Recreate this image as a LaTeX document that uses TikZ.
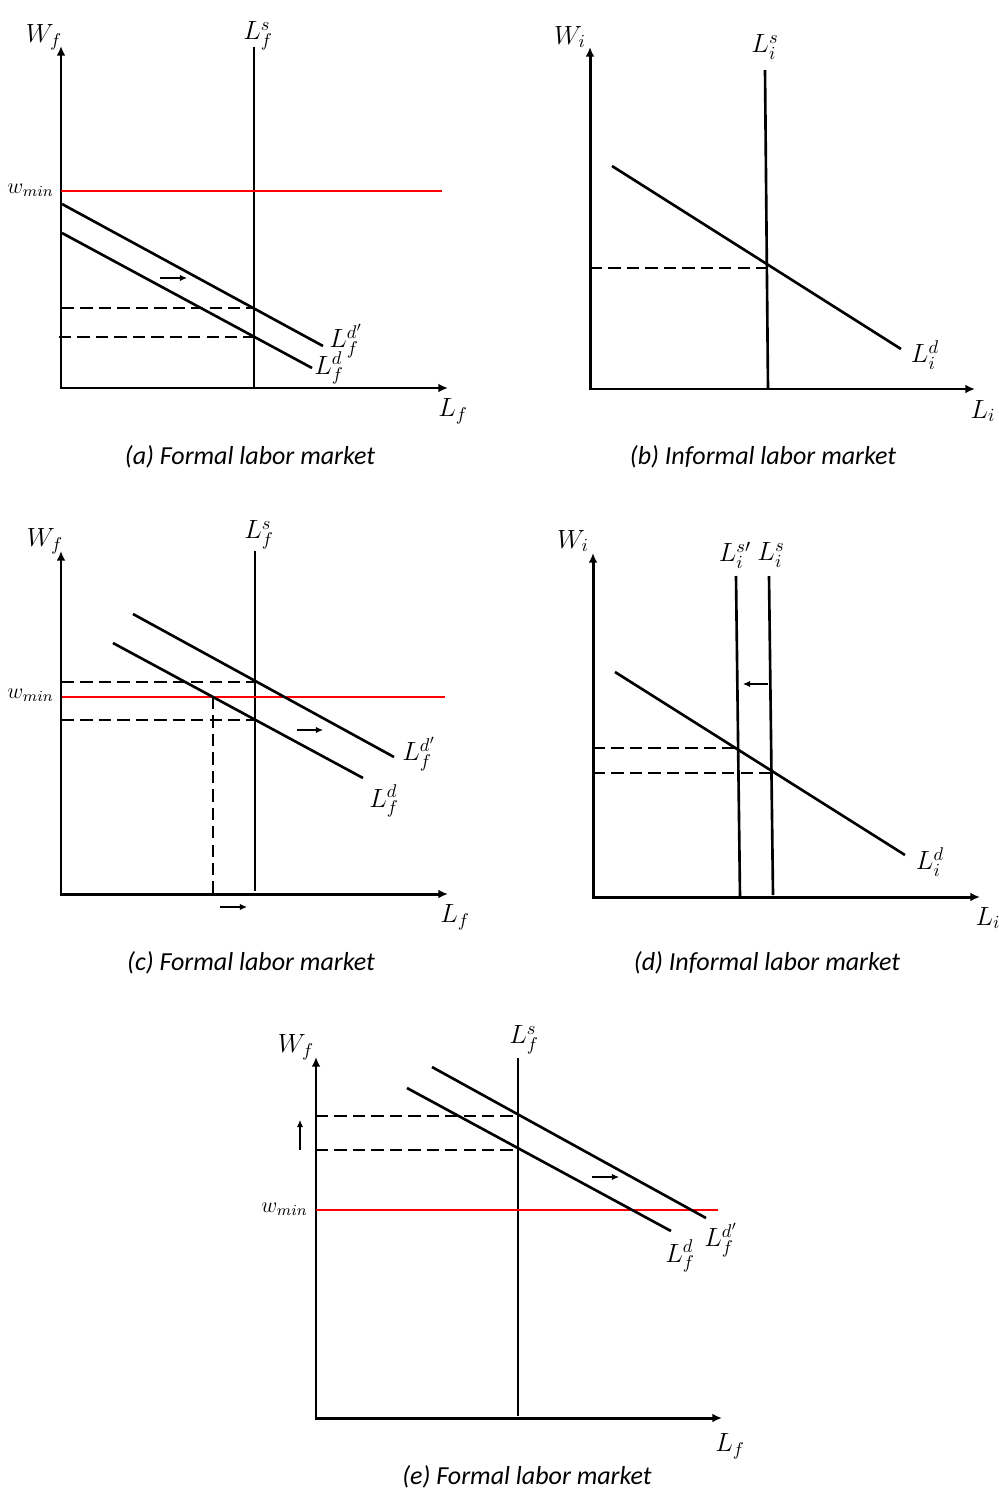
\RequirePackage{fix-cm}
\documentclass[tikz,border=0pt]{standalone}
\usepackage{fontspec}
\newfontfamily\capfont{Carlito}
\usetikzlibrary{arrows.meta}
\tikzset{
  axes/.style={line width=1.7pt, {Latex[length=5.5pt,width=5pt]}-{Latex[length=5.5pt,width=5pt]}},
  curve/.style={line width=1.5pt},
  minw/.style={line width=1.5pt, red},
  guide/.style={line width=0.75pt, dash pattern=on 7pt off 3.5pt},
  shiftarrow/.style={line width=0.6pt, -{Latex[length=4pt,width=3.5pt]}},
  lbl/.style={inner sep=0pt, font=\fontsize{15}{18}\selectfont},
  wlbl/.style={inner sep=0pt, font=\fontsize{12.5}{15}\selectfont, anchor=east},
  captext/.style={inner sep=0pt, font=\capfont\itshape\fontsize{14.8}{18}\selectfont},
}
\begin{document}
\begin{tikzpicture}[x=0.02cm,y=-0.02cm]
\useasboundingbox (0,0) rectangle (998,1491);

% ---------- panel (a) ----------
\coordinate (aY) at (61,46); \coordinate (aO) at (61,388); \coordinate (aX) at (448,388);
\draw[axes] (aY) -- (aO) -- (aX);
\coordinate (aS1) at (254,47); \coordinate (aS0) at (254,388);
\draw[curve] (aS1) -- (aS0);
\coordinate (aR0) at (61,191); \coordinate (aR1) at (442,191);
\draw[minw] (aR0) -- (aR1);
\coordinate (aDp0) at (62,204); \coordinate (aDp1) at (323,346);
\coordinate (aD0) at (62,233); \coordinate (aD1) at (312,368);
\draw[curve] (aDp0) -- (aDp1);
\draw[curve] (aD0) -- (aD1);
\coordinate (aG1a) at (62,308); \coordinate (aG1b) at (254,308);
\coordinate (aG2a) at (59,337); \coordinate (aG2b) at (254,337);
\draw[guide] (aG1a) -- (aG1b);
\draw[guide] (aG2a) -- (aG2b);
\coordinate (aA0) at (160,278); \coordinate (aA1) at (187,278);
\draw[shiftarrow] (aA0) -- (aA1);
\node[lbl] (aWf) at (44,37) {$W_f$};
\node[lbl] (aLs) at (258,36) {$L_f^s$};
\node[wlbl] (aWmin) at (54,190) {$w_{min}$};
\node[lbl] (aLdp) at (346,341) {$L_f^{d'}$};
\node[lbl] (aLd) at (329,368) {$L_f^d$};
\node[lbl] (aLf) at (453,411) {$L_f$};
\node[captext] (aCap) at (250,457) {(a) Formal labor market};

% ---------- panel (b) ----------
\coordinate (bY) at (590,47); \coordinate (bO) at (590,389); \coordinate (bX) at (975,389);
\draw[axes] (bY) -- (bO) -- (bX);
\coordinate (bS1) at (765,70); \coordinate (bS0) at (768,389);
\draw[curve] (bS1) -- (bS0);
\coordinate (bD0) at (612,166); \coordinate (bD1) at (901,349);
\draw[curve] (bD0) -- (bD1);
\coordinate (bGa) at (590,268); \coordinate (bGb) at (766,268);
\draw[guide] (bGa) -- (bGb);
\node[lbl] (bWi) at (570,37) {$W_i$};
\node[lbl] (bLs) at (765,47) {$L_i^s$};
\node[lbl] (bLd) at (925,355) {$L_i^d$};
\node[lbl] (bLi) at (983,411) {$L_i$};
\node[captext] (bCap) at (763,457) {(b) Informal labor market};

% ---------- panel (c) ----------
\coordinate (cY) at (61,551); \coordinate (cO) at (61,894); \coordinate (cX) at (448,894);
\draw[axes] (cY) -- (cO) -- (cX);
\coordinate (cS1) at (255,551); \coordinate (cS0) at (255,891);
\draw[curve] (cS1) -- (cS0);
\coordinate (cR0) at (62,697); \coordinate (cR1) at (445,697);
\draw[minw] (cR0) -- (cR1);
\coordinate (cDp0) at (133,614); \coordinate (cDp1) at (394,757);
\coordinate (cD0) at (113,643); \coordinate (cD1) at (363,778);
\draw[curve] (cDp0) -- (cDp1);
\draw[curve] (cD0) -- (cD1);
\coordinate (cG1a) at (62,682); \coordinate (cG1b) at (255,682);
\coordinate (cG2a) at (62,720); \coordinate (cG2b) at (255,720);
\coordinate (cG3a) at (213,697); \coordinate (cG3b) at (213,894);
\draw[guide] (cG1a) -- (cG1b);
\draw[guide] (cG2a) -- (cG2b);
\draw[guide] (cG3a) -- (cG3b);
\coordinate (cA0) at (297,730); \coordinate (cA1) at (323,730);
\coordinate (cB0) at (220,907); \coordinate (cB1) at (247,907);
\draw[shiftarrow] (cA0) -- (cA1);
\draw[shiftarrow] (cB0) -- (cB1);
\node[lbl] (cWf) at (45,541) {$W_f$};
\node[lbl] (cLs) at (259,535) {$L_f^s$};
\node[wlbl] (cWmin) at (54,695) {$w_{min}$};
\node[lbl] (cLdp) at (419,754) {$L_f^{d'}$};
\node[lbl] (cLd) at (384,801) {$L_f^d$};
\node[lbl] (cLf) at (455,917) {$L_f$};
\node[captext] (cCap) at (251,963) {(c) Formal labor market};

% ---------- panel (d) ----------
\coordinate (dY) at (593,553); \coordinate (dO) at (593,897); \coordinate (dX) at (980,897);
\draw[axes] (dY) -- (dO) -- (dX);
\coordinate (dSp1) at (736,576); \coordinate (dSp0) at (740,897);
\coordinate (dS1) at (769,576); \coordinate (dS0) at (773,895);
\draw[curve] (dSp1) -- (dSp0);
\draw[curve] (dS1) -- (dS0);
\coordinate (dD0) at (615,672); \coordinate (dD1) at (905,855);
\draw[curve] (dD0) -- (dD1);
\coordinate (dG1a) at (593,748); \coordinate (dG1b) at (737,748);
\coordinate (dG2a) at (593,773); \coordinate (dG2b) at (771,773);
\draw[guide] (dG1a) -- (dG1b);
\draw[guide] (dG2a) -- (dG2b);
\coordinate (dA0) at (768,684); \coordinate (dA1) at (743,684);
\draw[shiftarrow] (dA0) -- (dA1);
\node[lbl] (dWi) at (573,541) {$W_i$};
\node[lbl] (dLsp) at (735,555) {$L_i^{s\prime}$};
\node[lbl] (dLs) at (771,555) {$L_i^s$};
\node[lbl] (dLd) at (930,862) {$L_i^d$};
\node[lbl] (dLi) at (988,918) {$L_i$};
\node[captext] (dCap) at (767,963) {(d) Informal labor market};

% ---------- panel (e) ----------
\coordinate (eY) at (316,1057); \coordinate (eO) at (316,1418); \coordinate (eX) at (722,1418);
\draw[axes] (eY) -- (eO) -- (eX);
\coordinate (eS1) at (518,1058); \coordinate (eS0) at (518,1416);
\draw[curve] (eS1) -- (eS0);
\coordinate (eR0) at (316,1210); \coordinate (eR1) at (718,1210);
\draw[minw] (eR0) -- (eR1);
\coordinate (eDp0) at (432,1067); \coordinate (eDp1) at (706,1218);
\coordinate (eD0) at (407,1088); \coordinate (eD1) at (671,1231);
\draw[curve] (eDp0) -- (eDp1);
\draw[curve] (eD0) -- (eD1);
\coordinate (eG1a) at (316,1116); \coordinate (eG1b) at (518,1116);
\coordinate (eG2a) at (316,1150); \coordinate (eG2b) at (518,1150);
\draw[guide] (eG1a) -- (eG1b);
\draw[guide] (eG2a) -- (eG2b);
\coordinate (eU0) at (300,1150); \coordinate (eU1) at (300,1120);
\coordinate (eA0) at (592,1177); \coordinate (eA1) at (619,1177);
\draw[shiftarrow] (eU0) -- (eU1);
\draw[shiftarrow] (eA0) -- (eA1);
\node[lbl] (eWf) at (296,1047) {$W_f$};
\node[lbl] (eLs) at (524,1040) {$L_f^s$};
\node[wlbl] (eWmin) at (308,1209) {$w_{min}$};
\node[lbl] (eLd) at (680,1256) {$L_f^d$};
\node[lbl] (eLdp) at (721,1240) {$L_f^{d'}$};
\node[lbl] (eLf) at (730,1446) {$L_f$};
\node[captext] (eCap) at (527,1477) {(e) Formal labor market};
\end{tikzpicture}
\end{document}
